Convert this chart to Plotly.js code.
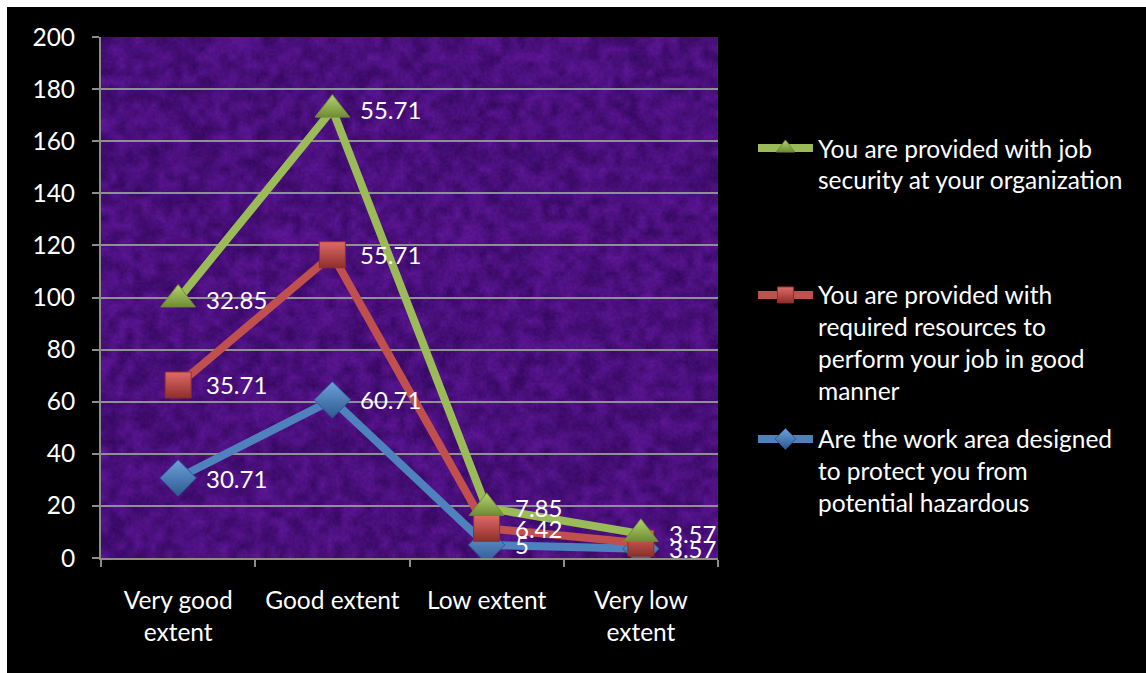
<!DOCTYPE html>
<html>
<head>
<meta charset="utf-8">
<script src="https://cdn.plot.ly/plotly-3.0.1.min.js"></script>
<style>
  html, body { margin: 0; padding: 0; background: #ffffff; }
  #chart { position: absolute; left: 7px; top: 7px; width: 1139px; height: 666px; }
</style>
</head>
<body>
<div id="chart"></div>
<script>
// Response categories
const categories = ['Very good<br>extent', 'Good extent', 'Low extent', 'Very low<br>extent'];

// Percentages per statement (stacked in the order below)
const workAreaSafety = [30.71, 60.71, 5, 3.57];
const requiredResources = [35.71, 55.71, 6.42, 2.14];
const jobSecurity = [32.85, 55.71, 7.85, 3.57];

// Value labels shown next to each point ('' = not shown)
const workAreaLabels = ['30.71', '60.71', '5', '3.57'];
const resourcesLabels = ['35.71', '55.71', '6.42', ''];
const securityLabels = ['32.85', '55.71', '7.85', '3.57'];

const seriesNames = [
  'Are the work area designed<br>to protect you from<br>potential hazardous',
  'You are provided with<br>required resources to<br>perform your job in good<br>manner',
  'You are provided with job<br>security at your organization'
];

const yTicks = [0, 20, 40, 60, 80, 100, 120, 140, 160, 180, 200];

// cumulative sums for the stacked lines
function addArrays(a, b) { return a.map((v, i) => +(v + b[i]).toFixed(2)); }
const blueY = workAreaSafety.slice();
const redY = addArrays(blueY, requiredResources);
const greenY = addArrays(redY, jobSecurity);

const FONT = 'Lato, "Open Sans", sans-serif';
const FS = 24.5;

// mottled purple backdrop: coarse smoothed blotches plus fine grain, stretched over the plot area
function makeTexture(w, h) {
  let seed = 9871;
  const rnd = () => { seed = (seed * 16807) % 2147483647; return (seed - 1) / 2147483646; };

  const cw = Math.round(w / 4), ch = Math.round(h / 4);
  const coarse = document.createElement('canvas');
  coarse.width = cw; coarse.height = ch;
  const cctx = coarse.getContext('2d');
  const cimg = cctx.createImageData(cw, ch);
  for (let i = 0; i < cw * ch; i++) {
    const n = rnd() - 0.5;
    cimg.data[i * 4] = 74 + n * 34;
    cimg.data[i * 4 + 1] = 16 + n * 12;
    cimg.data[i * 4 + 2] = 124 + n * 46;
    cimg.data[i * 4 + 3] = 255;
  }
  cctx.putImageData(cimg, 0, 0);

  const c = document.createElement('canvas');
  c.width = w; c.height = h;
  const ctx = c.getContext('2d');
  ctx.imageSmoothingEnabled = true;
  ctx.drawImage(coarse, 0, 0, w, h);
  const img = ctx.getImageData(0, 0, w, h);
  for (let i = 0; i < w * h; i++) {
    const n = rnd() - 0.5;
    img.data[i * 4] += n * 14;
    img.data[i * 4 + 1] += n * 6;
    img.data[i * 4 + 2] += n * 18;
  }
  ctx.putImageData(img, 0, 0);
  return c.toDataURL('image/png');
}

function lineTrace(y, name, color, symbol, size, legendId) {
  return {
    type: 'scatter', mode: 'lines+markers',
    x: categories, y: y, name: name,
    legend: legendId,
    line: { color: color.main, width: 8 },
    marker: {
      symbol: symbol, size: size, color: color.light,
      gradient: { type: 'vertical', color: color.dark },
      line: { color: color.dark, width: 1 }
    },
    hoverinfo: 'skip'
  };
}

const blue = { main: '#4f81bd', light: '#6fa0dc', dark: '#2c5a8f' };
const red = { main: '#c0504d', light: '#e06a66', dark: '#8e2f2c' };
const green = { main: '#9bbb59', light: '#b5d46e', dark: '#6f8c35' };

const traces = [
  lineTrace(blueY, seriesNames[0], blue, 'diamond', 28, 'legend3'),
  lineTrace(redY, seriesNames[1], red, 'square', 26, 'legend2'),
  lineTrace(greenY, seriesNames[2], green, 'triangle-up', 30, 'legend')
];

// value labels placed to the right of the points
const annotations = [];
[[blueY, workAreaLabels], [redY, resourcesLabels], [greenY, securityLabels]].forEach(([ys, labels]) => {
  ys.forEach((y, i) => {
    if (!labels[i]) return;
    annotations.push({
      x: categories[i], y: y, xref: 'x', yref: 'y',
      text: labels[i], showarrow: false,
      xanchor: 'left', yanchor: 'middle', xshift: 26,
      font: { family: FONT, size: 24, color: '#ffffff' }
    });
  });
});

const legendCommon = {
  font: { family: FONT, size: FS, color: '#ffffff' },
  bgcolor: 'rgba(0,0,0,0)', valign: 'top',
  xanchor: 'left', yanchor: 'top', itemwidth: 55
};

const layout = {
  width: 1139, height: 666,
  paper_bgcolor: '#000000', plot_bgcolor: 'rgb(74,16,124)',
  margin: { l: 94, r: 428, t: 30, b: 115 },
  font: { family: FONT, size: FS, color: '#ffffff' },
  showlegend: true,
  xaxis: {
    type: 'category', range: [-0.5, 3.5], tickson: 'boundaries',
    showgrid: false, showline: true, linecolor: '#8c8c8c', linewidth: 2,
    ticks: 'outside', ticklen: 7, tickcolor: '#8c8c8c', tickwidth: 2,
    ticklabelstandoff: 20,
    tickfont: { family: FONT, size: FS, color: '#ffffff' }, fixedrange: true
  },
  yaxis: {
    range: [0, 200], tickvals: yTicks, ticktext: yTicks.map(String),
    showgrid: true, gridcolor: '#909090', gridwidth: 2, zeroline: false,
    showline: true, linecolor: '#8c8c8c', linewidth: 2,
    ticks: 'outside', ticklen: 7, tickcolor: '#8c8c8c', tickwidth: 2,
    ticklabelstandoff: 12,
    tickfont: { family: FONT, size: FS, color: '#ffffff' }, fixedrange: true
  },
  legend: Object.assign({ x: 1.0567, y: 0.830 }, legendCommon),
  legend2: Object.assign({ x: 1.0567, y: 0.548 }, legendCommon),
  legend3: Object.assign({ x: 1.0567, y: 0.2716 }, legendCommon),
  annotations: annotations,
  images: [{
    source: makeTexture(309, 261), xref: 'paper', yref: 'paper',
    x: 0, y: 1, sizex: 1, sizey: 1, sizing: 'stretch',
    xanchor: 'left', yanchor: 'top', layer: 'below'
  }]
};

Plotly.newPlot('chart', traces, layout, { displayModeBar: false, staticPlot: true });
</script>
</body>
</html>
